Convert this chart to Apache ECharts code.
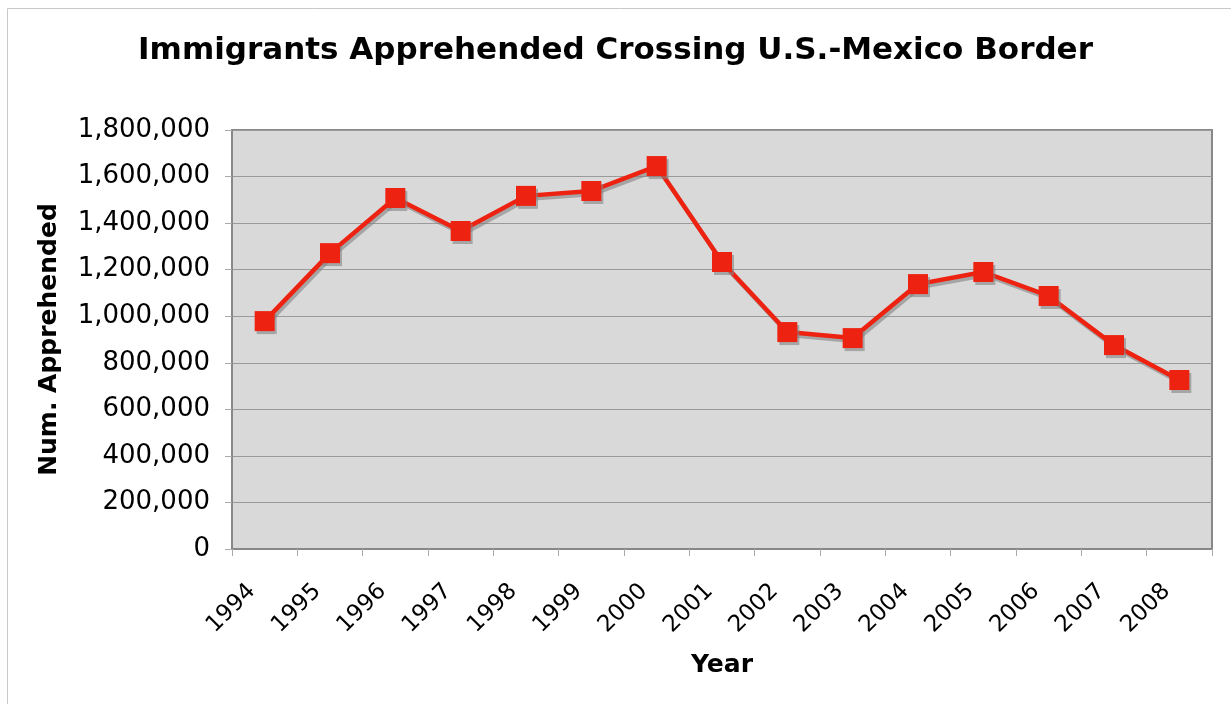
<!DOCTYPE html>
<html><head><meta charset="utf-8">
<script src="https://cdn.jsdelivr.net/npm/echarts@6/dist/echarts.min.js"></script>
<style>html,body{margin:0;padding:0;background:#fff}#c{width:1231px;height:704px}</style>
</head><body><div id="c"></div>
<script>
const years = ['1994','1995','1996','1997','1998','1999','2000','2001','2002','2003','2004','2005','2006','2007','2008'];
const apprehended = [979000, 1271000, 1508000, 1366000, 1517000, 1538000, 1645000, 1233000, 932000, 906000, 1138000, 1190000, 1087000, 876000, 726000];
const chart = echarts.init(document.getElementById('c'), null, {renderer:'canvas'});
const font = 'DejaVu Sans';
chart.setOption({
  animation:false,
  graphic:[{type:'rect',left:5,top:6,shape:{width:1224,height:704},style:{fill:'none',stroke:'#c8c8c8',lineWidth:1},z:-1}],
  title:{text:'Immigrants Apprehended Crossing U.S.-Mexico Border',left:'center',top:30,
    textStyle:{fontFamily:font,fontWeight:'bold',fontSize:31,color:'#000'}},
  grid:{left:232,top:130,width:980,height:419,show:true,backgroundColor:'#d9d9d9',borderColor:'#888',borderWidth:2},
  xAxis:{type:'category',data:years,boundaryGap:true,
    name:'Year',nameLocation:'middle',nameGap:104,
    nameTextStyle:{fontFamily:font,fontWeight:'bold',fontSize:25,color:'#000'},
    axisLine:{lineStyle:{color:'#888',width:2}},
    axisTick:{show:true,length:7,lineStyle:{color:'#aaa'}},
    axisLabel:{rotate:45,margin:26,padding:[0,18,0,0],fontFamily:font,fontSize:23,color:'#000'}},
  yAxis:{type:'value',min:0,max:1800000,interval:200000,
    name:'Num. Apprehended',nameLocation:'middle',nameGap:170,
    nameTextStyle:{fontFamily:font,fontWeight:'bold',fontSize:25,color:'#000'},
    axisLine:{show:true,lineStyle:{color:'#888',width:2}},
    axisTick:{show:true,length:7,lineStyle:{color:'#aaa'}},
    splitLine:{lineStyle:{color:'#9a9a9a',width:1}},
    axisLabel:{margin:22,fontFamily:font,fontSize:26,color:'#000',
      formatter:v=>v.toLocaleString('en-US')}},
  series:[{type:'line',data:apprehended,symbol:'rect',symbolSize:20,
    lineStyle:{color:'#ee2211',width:4.5,shadowColor:'rgba(130,130,130,0.6)',shadowOffsetX:2,shadowOffsetY:3},
    itemStyle:{color:'#ee2211',shadowColor:'rgba(130,130,130,0.6)',shadowOffsetX:2,shadowOffsetY:3}}]
});
</script></body></html>
